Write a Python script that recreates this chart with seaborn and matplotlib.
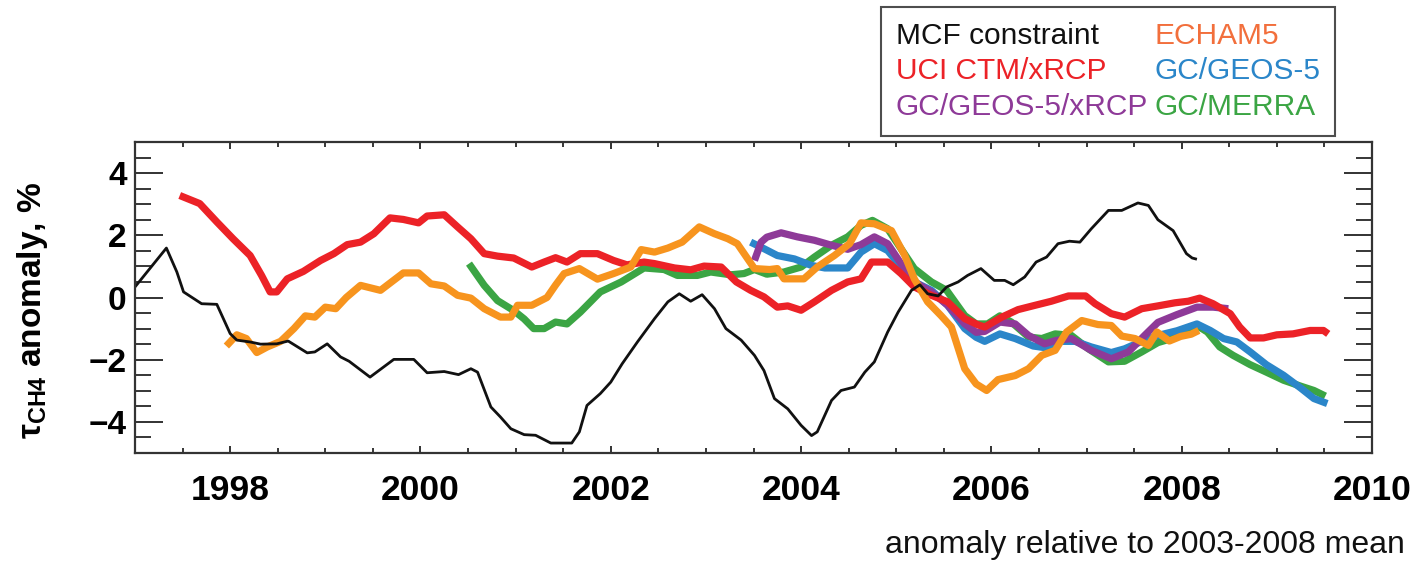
import numpy as np
import pandas as pd
import matplotlib
matplotlib.use("Agg")
import matplotlib.pyplot as plt
from matplotlib.lines import Line2D
from matplotlib.ticker import MultipleLocator
import seaborn as sns

# ---------------- data ----------------
mcf_x = [1997.00, 1997.33, 1997.44, 1997.51, 1997.70, 1997.86, 1998.00, 1998.07, 1998.21, 1998.32,
         1998.49, 1998.61, 1998.81, 1998.89, 1999.02, 1999.16, 1999.25, 1999.47, 1999.72, 1999.93,
         2000.07, 2000.25, 2000.40, 2000.53, 2000.60, 2000.74, 2000.84, 2000.95, 2001.09, 2001.21,
         2001.37, 2001.59, 2001.67, 2001.75, 2001.89, 2002.00, 2002.12, 2002.28, 2002.46, 2002.60,
         2002.72, 2002.84, 2002.96, 2003.09, 2003.21, 2003.37, 2003.51, 2003.61, 2003.72, 2003.86,
         2004.00, 2004.11, 2004.17, 2004.32, 2004.42, 2004.56, 2004.67, 2004.77, 2004.91, 2005.02,
         2005.16, 2005.25, 2005.33, 2005.44, 2005.53, 2005.65, 2005.75, 2005.89, 2006.03, 2006.14,
         2006.23, 2006.35, 2006.47, 2006.58, 2006.70, 2006.82, 2006.93, 2007.05, 2007.23, 2007.37,
         2007.54, 2007.65, 2007.75, 2007.91, 2008.05, 2008.11, 2008.16]
mcf_y = [0.34, 1.59, 0.82, 0.18, -0.20, -0.22, -1.16, -1.37, -1.43, -1.50,
         -1.49, -1.40, -1.78, -1.75, -1.49, -1.91, -2.05, -2.56, -1.99, -1.99,
         -2.42, -2.38, -2.48, -2.29, -2.40, -3.52, -3.84, -4.22, -4.41, -4.43,
         -4.68, -4.68, -4.32, -3.47, -3.09, -2.72, -2.13, -1.43, -0.68, -0.14,
         0.12, -0.12, 0.09, -0.36, -1.00, -1.37, -1.86, -2.35, -3.25, -3.58,
         -4.11, -4.44, -4.32, -3.31, -2.99, -2.88, -2.40, -2.07, -1.11, -0.47,
         0.23, 0.41, 0.12, 0.05, 0.34, 0.50, 0.71, 0.93, 0.55, 0.55,
         0.41, 0.66, 1.14, 1.30, 1.73, 1.81, 1.78, 2.21, 2.80, 2.80,
         3.04, 2.96, 2.50, 2.15, 1.41, 1.27, 1.23]

uci_x = [1997.47, 1997.68, 1997.86, 1998.03, 1998.21, 1998.33, 1998.42, 1998.49, 1998.60, 1998.77,
         1998.95, 1999.09, 1999.23, 1999.37, 1999.51, 1999.68, 1999.82, 1999.98, 2000.07, 2000.25,
         2000.39, 2000.53, 2000.67, 2000.81, 2000.98, 2001.17, 2001.30, 2001.42, 2001.54, 2001.68,
         2001.86, 2002.03, 2002.17, 2002.35, 2002.46, 2002.67, 2002.84, 2002.98, 2003.16, 2003.32,
         2003.47, 2003.61, 2003.75, 2003.86, 2004.00, 2004.14, 2004.32, 2004.49, 2004.63, 2004.74,
         2004.91, 2005.05, 2005.19, 2005.37, 2005.54, 2005.72, 2005.86, 2005.93, 2006.11, 2006.28,
         2006.46, 2006.63, 2006.81, 2006.99, 2007.09, 2007.26, 2007.40, 2007.58, 2007.75, 2007.93,
         2008.07, 2008.19, 2008.33, 2008.51, 2008.61, 2008.72, 2008.86, 2009.00, 2009.17, 2009.35,
         2009.49, 2009.54]
uci_y = [3.28, 3.02, 2.43, 1.89, 1.35, 0.71, 0.18, 0.18, 0.60, 0.84,
         1.19, 1.41, 1.70, 1.78, 2.05, 2.56, 2.51, 2.40, 2.62, 2.66,
         2.27, 1.89, 1.41, 1.33, 1.27, 0.98, 1.14, 1.28, 1.14, 1.41,
         1.41, 1.19, 1.05, 1.14, 1.09, 0.95, 0.89, 1.01, 0.98, 0.50,
         0.23, 0.02, -0.31, -0.27, -0.41, -0.14, 0.23, 0.50, 0.60, 1.14,
         1.14, 0.77, 0.34, 0.07, -0.14, -0.68, -0.88, -0.95, -0.63, -0.39,
         -0.25, -0.12, 0.05, 0.05, -0.20, -0.52, -0.63, -0.36, -0.27, -0.17,
         -0.12, -0.02, -0.20, -0.52, -0.95, -1.30, -1.30, -1.20, -1.17, -1.06,
         -1.06, -1.17]

echam_x = [1997.96, 1998.07, 1998.17, 1998.28, 1998.39, 1998.53, 1998.67, 1998.79, 1998.89, 1999.00,
           1999.11, 1999.22, 1999.37, 1999.58, 1999.82, 1999.98, 2000.11, 2000.25, 2000.39, 2000.53,
           2000.67, 2000.84, 2000.95, 2001.02, 2001.17, 2001.33, 2001.42, 2001.51, 2001.67, 2001.86,
           2002.03, 2002.21, 2002.32, 2002.46, 2002.60, 2002.75, 2002.93, 2003.09, 2003.23, 2003.33,
           2003.44, 2003.51, 2003.67, 2003.75, 2003.82, 2004.03, 2004.17, 2004.35, 2004.51, 2004.63,
           2004.77, 2004.95, 2005.09, 2005.19, 2005.33, 2005.47, 2005.58, 2005.72, 2005.84, 2005.95,
           2006.07, 2006.25, 2006.39, 2006.53, 2006.67, 2006.79, 2006.95, 2007.12, 2007.26, 2007.37,
           2007.51, 2007.65, 2007.74, 2007.87, 2007.99, 2008.10, 2008.18]
echam_y = [-1.56, -1.20, -1.32, -1.77, -1.59, -1.41, -1.00, -0.59, -0.63, -0.31,
           -0.36, 0.00, 0.39, 0.23, 0.79, 0.79, 0.44, 0.37, 0.07, -0.02,
           -0.36, -0.63, -0.63, -0.25, -0.25, 0.00, 0.40, 0.77, 0.93, 0.59,
           0.77, 0.98, 1.54, 1.46, 1.59, 1.78, 2.27, 2.05, 1.89, 1.73,
           1.24, 0.93, 0.90, 0.93, 0.60, 0.60, 0.98, 1.35, 1.73, 2.40,
           2.37, 2.15, 1.35, 0.60, -0.14, -0.58, -0.95, -2.29, -2.78, -2.99,
           -2.64, -2.51, -2.29, -1.86, -1.70, -1.11, -0.74, -0.87, -0.90, -1.24,
           -1.32, -1.54, -1.11, -1.40, -1.25, -1.18, -1.06]

merra_x = [2000.51, 2000.67, 2000.81, 2000.98, 2001.09, 2001.19, 2001.30, 2001.42, 2001.54, 2001.68,
           2001.89, 2002.11, 2002.35, 2002.56, 2002.70, 2002.91, 2003.05, 2003.26, 2003.40, 2003.51,
           2003.64, 2003.82, 2004.00, 2004.14, 2004.32, 2004.49, 2004.63, 2004.75, 2004.91, 2005.05,
           2005.19, 2005.37, 2005.53, 2005.72, 2005.84, 2005.96, 2006.09, 2006.21, 2006.39, 2006.53,
           2006.67, 2006.84, 2007.02, 2007.23, 2007.40, 2007.58, 2007.75, 2007.95, 2008.16, 2008.27,
           2008.40, 2008.54, 2008.72, 2008.89, 2009.07, 2009.25, 2009.39, 2009.51]
merra_y = [1.09, 0.39, -0.10, -0.42, -0.69, -1.00, -1.00, -0.79, -0.85, -0.47,
           0.18, 0.50, 0.95, 0.90, 0.71, 0.71, 0.82, 0.73, 0.77, 0.90,
           0.75, 0.82, 0.98, 1.30, 1.68, 1.95, 2.32, 2.48, 2.21, 1.57,
           0.93, 0.50, 0.23, -0.58, -0.85, -0.85, -0.59, -0.79, -1.27, -1.32,
           -1.17, -1.22, -1.65, -2.07, -2.05, -1.75, -1.45, -1.27, -0.90, -1.11,
           -1.59, -1.86, -2.16, -2.40, -2.66, -2.85, -2.99, -3.17]

geos5_x = [2003.47, 2003.61, 2003.75, 2003.93, 2004.11, 2004.25, 2004.49, 2004.63, 2004.77, 2004.91,
           2005.05, 2005.19, 2005.37, 2005.54, 2005.72, 2005.84, 2005.93, 2006.09, 2006.25, 2006.44,
           2006.58, 2006.70, 2006.88, 2007.05, 2007.26, 2007.40, 2007.58, 2007.75, 2007.95, 2008.16,
           2008.30, 2008.44, 2008.58, 2008.72, 2008.89, 2009.07, 2009.25, 2009.39, 2009.53]
geos5_y = [1.78, 1.57, 1.35, 1.24, 1.03, 0.95, 0.95, 1.46, 1.73, 1.51,
           0.98, 0.50, 0.23, -0.25, -1.00, -1.28, -1.41, -1.17, -1.32, -1.56,
           -1.62, -1.41, -1.41, -1.59, -1.77, -1.65, -1.41, -1.22, -1.07, -0.85,
           -1.06, -1.32, -1.43, -1.75, -2.16, -2.50, -2.91, -3.25, -3.41]

geos5x_x = [2003.51, 2003.58, 2003.64, 2003.79, 2003.96, 2004.14, 2004.32, 2004.49, 2004.63, 2004.77,
            2004.91, 2005.05, 2005.19, 2005.37, 2005.54, 2005.72, 2005.84, 2005.93, 2006.09, 2006.25,
            2006.39, 2006.56, 2006.68, 2006.84, 2007.05, 2007.26, 2007.44, 2007.61, 2007.75, 2007.95,
            2008.16, 2008.33, 2008.49]
geos5x_y = [1.19, 1.78, 1.94, 2.08, 1.95, 1.84, 1.68, 1.55, 1.70, 1.95,
            1.73, 1.09, 0.50, 0.18, -0.25, -0.85, -1.12, -1.09, -0.79, -0.85,
            -1.22, -1.49, -1.38, -1.32, -1.70, -1.97, -1.75, -1.22, -0.80, -0.55,
            -0.31, -0.31, -0.36]

labels = ["MCF constraint", "UCI CTM/xRCP", "GC/GEOS-5/xRCP", "ECHAM5", "GC/GEOS-5", "GC/MERRA"]
xtick_vals = [1998, 2000, 2002, 2004, 2006, 2008, 2010]
ytick_vals = [-4, -2, 0, 2, 4]

# ---------------- styling ----------------
sns.set_theme(style="white")
plt.rcParams["font.family"] = ["Liberation Sans", "DejaVu Sans"]
plt.rcParams["mathtext.fontset"] = "custom"
plt.rcParams["mathtext.rm"] = "Liberation Sans:bold"
plt.rcParams["mathtext.bf"] = "Liberation Sans:bold"

c_black = "#111111"
c_red = "#EC2227"
c_orange = "#F7941E"
c_orange_txt = "#F26F3C"
c_blue = "#2B86C9"
c_purple = "#8E3A98"
c_green = "#3BA544"

fig = plt.figure(figsize=(14.17, 5.61), dpi=100)
ax = fig.add_axes([135 / 1417, 1 - 453 / 561, 1237 / 1417, 311 / 561])

series = [
    (merra_x, merra_y, c_green, 5.2),
    (geos5_x, geos5_y, c_blue, 5.2),
    (geos5x_x, geos5x_y, c_purple, 5.2),
    (uci_x, uci_y, c_red, 5.2),
    (echam_x, echam_y, c_orange, 5.2),
    (mcf_x, mcf_y, c_black, 2.0),
]
for xs, ys, col, lw in series:
    df = pd.DataFrame({"year": xs, "anom": ys})
    sns.lineplot(data=df, x="year", y="anom", color=col, linewidth=lw, ax=ax,
                 sort=False, estimator=None, solid_joinstyle="round", solid_capstyle="butt")

ax.set_xlim(1997, 2010)
ax.set_ylim(-5, 5)
ax.set_xticks(xtick_vals)
ax.set_yticks(ytick_vals)
ax.xaxis.set_minor_locator(MultipleLocator(0.5))
ax.yaxis.set_minor_locator(MultipleLocator(0.5))
ax.set_xticklabels([str(v) for v in xtick_vals], fontsize=25.5, fontweight="bold")
ax.set_yticklabels([str(v).replace("-", "\u2212") for v in ytick_vals], fontsize=24, fontweight="bold")

ax.tick_params(axis="x", which="major", direction="in", length=5, width=1.3, top=True, bottom=True,
               pad=15, colors="#222222")
ax.tick_params(axis="x", which="minor", direction="in", length=3.5, width=1.3, top=True, bottom=True)
ax.tick_params(axis="y", which="major", direction="in", length=20, width=1.3, left=True, right=True,
               pad=6, colors="#222222")
ax.tick_params(axis="y", which="minor", direction="in", length=11.5, width=1.3, left=True, right=True)
for lab in ax.get_xticklabels() + ax.get_yticklabels():
    lab.set_color("black")

for s in ax.spines.values():
    s.set_linewidth(1.6)
    s.set_color("#333333")
    s.set_visible(True)

ax.set_xlabel("")
ax.set_ylabel("\u03c4$_{\\mathrm{CH4}}$ anomaly, %", fontsize=24, fontweight="bold", color="black")
ax.yaxis.set_label_coords(-0.083, 0.457)
ax.yaxis.label.set_verticalalignment("center")

# legend (text-only entries, coloured labels)
handles = [Line2D([], [], color="none") for _ in labels]
leg = fig.legend(handles, labels, ncol=2, loc="upper left",
                 bbox_to_anchor=(881 / 1417, 1 - 7 / 561), borderaxespad=0,
                 handlelength=0, handletextpad=0, columnspacing=0.2,
                 labelspacing=0.25, borderpad=0.5, fontsize=21.5,
                 frameon=True, fancybox=False, edgecolor="#222222",
                 labelcolor=[c_black, c_red, c_purple, c_orange_txt, c_blue, c_green])
leg.get_frame().set_linewidth(1.5)

fig.text(1405 / 1417, 1 - 545 / 561, "anomaly relative to 2003-2008 mean",
         ha="right", va="center", fontsize=23, color="#111111")

fig.savefig("out.png", dpi=100)
